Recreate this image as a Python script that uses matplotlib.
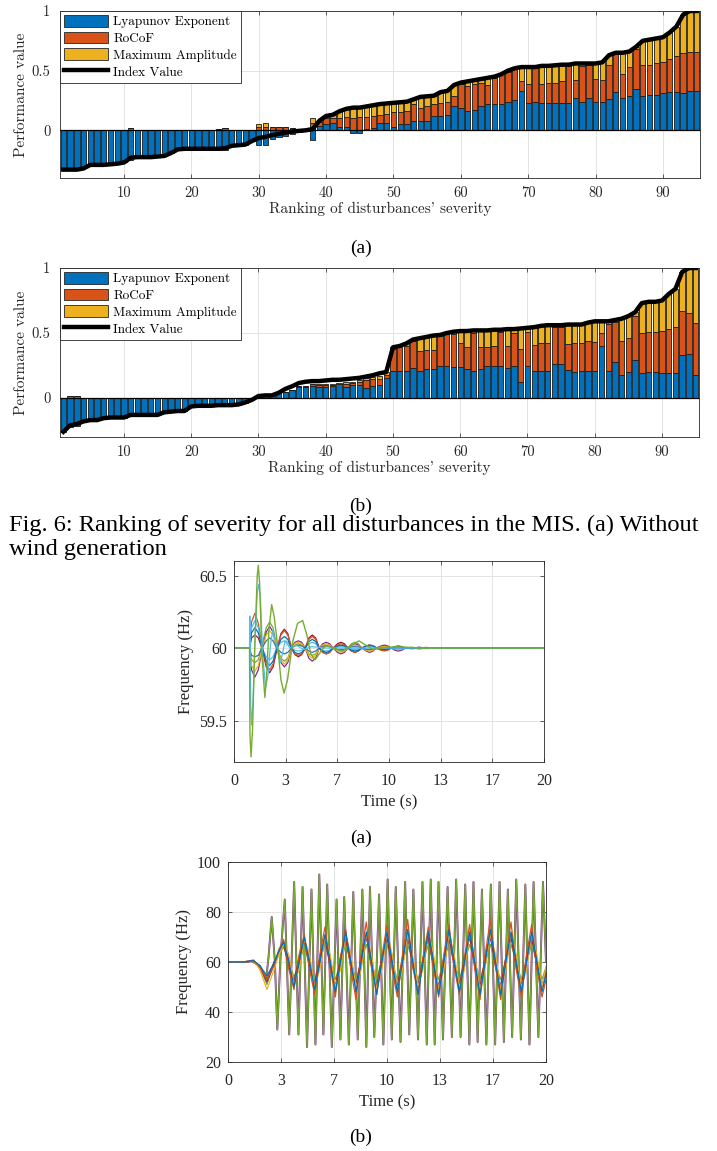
import numpy as np
import matplotlib.pyplot as plt
from matplotlib.patches import Patch, Rectangle
from matplotlib.lines import Line2D

# ---------------- ranking data (95 disturbances) ----------------
rank = list(range(1, 96))

lyap_a = [
    -0.33, -0.33, -0.33, -0.32, -0.29, -0.29, -0.29, -0.285, -0.28, -0.27,
    -0.245, -0.225, -0.225, -0.225, -0.22, -0.215, -0.19, -0.16, -0.155, -0.16,
    -0.16, -0.16, -0.16, -0.165, -0.165, -0.13, -0.125, -0.12, -0.09, -0.12,
    -0.12, -0.07, -0.06, -0.045, -0.03, -0.015, -0.01, -0.085, 0.04, 0.05,
    0.06, 0.03, 0.03, -0.02, -0.02, 0.01, 0.02, 0.06, 0.06, 0.03,
    0.05, 0.05, 0.08, 0.08, 0.08, 0.12, 0.12, 0.13, 0.20, 0.19,
    0.16, 0.17, 0.20, 0.22, 0.22, 0.22, 0.24, 0.25, 0.33, 0.23,
    0.24, 0.23, 0.23, 0.23, 0.23, 0.23, 0.27, 0.24, 0.27, 0.24,
    0.24, 0.26, 0.32, 0.27, 0.29, 0.35, 0.29, 0.30, 0.30, 0.31,
    0.32, 0.32, 0.31, 0.33, 0.33]
rocof_a = [
    0, 0, 0, 0, 0, 0, 0, 0, 0, 0,
    0.015, 0, 0, 0, 0, 0, 0, 0, 0, 0.005,
    0.005, 0.005, 0.005, 0.01, 0.015, 0, 0, 0, 0, 0.03,
    0.03, 0.03, 0.03, 0.025, 0.02, 0.01, 0.01, 0.06, 0.03, 0.05,
    0.04, 0.07, 0.08, 0.10, 0.11, 0.10, 0.10, 0.07, 0.08, 0.12,
    0.10, 0.11, 0.14, 0.11, 0.12, 0.10, 0.11, 0.11, 0.09, 0.20,
    0.21, 0.22, 0.20, 0.16, 0.22, 0.25, 0.25, 0.26, 0.08, 0.16,
    0.28, 0.16, 0.17, 0.17, 0.18, 0.31, 0.15, 0.30, 0.28, 0.19,
    0.18, 0.29, 0.32, 0.20, 0.24, 0.33, 0.26, 0.25, 0.26, 0.26,
    0.28, 0.30, 0.34, 0.33, 0.33]
amp_a = [
    0, 0, 0, 0, 0, 0, 0, 0, 0, 0,
    0, 0, 0, 0, 0, 0, 0, 0, 0, 0,
    0, 0, 0, 0, 0, 0, 0, 0, 0, 0.025,
    0.035, 0, 0, 0, 0, 0, 0, 0.04, 0.01, 0.02,
    0.03, 0.06, 0.07, 0.09, 0.08, 0.09, 0.09, 0.09, 0.085, 0.08,
    0.085, 0.08, 0.04, 0.09, 0.085, 0.07, 0.09, 0.09, 0.09, 0.01,
    0.04, 0.03, 0.03, 0.06, 0.01, 0.0, 0.01, 0.01, 0.12, 0.14,
    0.01, 0.15, 0.14, 0.145, 0.14, 0.01, 0.14, 0.02, 0.01, 0.13,
    0.15, 0.08, 0.01, 0.18, 0.13, 0.02, 0.20, 0.21, 0.21, 0.21,
    0.22, 0.25, 0.32, 0.34, 0.34]
index_a = [
    -0.33, -0.33, -0.33, -0.32, -0.29, -0.29, -0.29, -0.285, -0.28, -0.27,
    -0.23, -0.225, -0.225, -0.225, -0.22, -0.215, -0.19, -0.16, -0.155, -0.155,
    -0.155, -0.155, -0.155, -0.155, -0.15, -0.13, -0.125, -0.12, -0.09, -0.065,
    -0.055, -0.04, -0.03, -0.02, -0.01, -0.005, 0.0, 0.01, 0.08, 0.12,
    0.13, 0.16, 0.18, 0.19, 0.19, 0.20, 0.21, 0.22, 0.225, 0.23,
    0.235, 0.24, 0.26, 0.28, 0.285, 0.29, 0.32, 0.33, 0.38, 0.40,
    0.41, 0.42, 0.43, 0.44, 0.45, 0.47, 0.50, 0.52, 0.53, 0.53,
    0.53, 0.54, 0.54, 0.545, 0.55, 0.55, 0.56, 0.56, 0.56, 0.56,
    0.57, 0.63, 0.65, 0.65, 0.66, 0.70, 0.75, 0.76, 0.77, 0.78,
    0.82, 0.87, 0.97, 1.0, 1.0]

lyap_b = [
    -0.26, -0.22, -0.215, -0.18, -0.17, -0.17, -0.155, -0.15, -0.15, -0.15,
    -0.13, -0.13, -0.13, -0.13, -0.13, -0.11, -0.105, -0.10, -0.10, -0.065,
    -0.06, -0.06, -0.06, -0.055, -0.055, -0.055, -0.05, -0.035, -0.015, 0.015,
    0.02, 0.02, 0.035, 0.05, 0.065, 0.085, 0.085, 0.09, 0.085, 0.085,
    0.09, 0.105, 0.085, 0.10, 0.10, 0.075, 0.09, 0.10, 0.155, 0.205,
    0.205, 0.21, 0.23, 0.21, 0.22, 0.22, 0.25, 0.25, 0.24, 0.24,
    0.22, 0.21, 0.22, 0.25, 0.244, 0.244, 0.23, 0.25, 0.12, 0.25,
    0.21, 0.21, 0.21, 0.26, 0.26, 0.218, 0.20, 0.21, 0.21, 0.205,
    0.40, 0.207, 0.277, 0.18, 0.20, 0.29, 0.19, 0.20, 0.20, 0.195,
    0.19, 0.19, 0.33, 0.336, 0.18]
rocof_b = [
    0, 0.015, 0.015, 0, 0, 0, 0, 0, 0, 0,
    0, 0, 0, 0, 0, 0, 0, 0, 0, 0,
    0, 0, 0, 0, 0, 0, 0, 0, 0, 0,
    0, 0, 0, 0, 0, 0.005, 0.005, 0.015, 0.015, 0.015,
    0.01, 0.005, 0.025, 0.015, 0.025, 0.065, 0.06, 0.05, 0.02, 0.175,
    0.185, 0.19, 0.21, 0.15, 0.15, 0.15, 0.23, 0.24, 0.25, 0.18,
    0.17, 0.29, 0.17, 0.14, 0.155, 0.26, 0.17, 0.25, 0.26, 0.26,
    0.195, 0.21, 0.21, 0.285, 0.285, 0.20, 0.22, 0.21, 0.225, 0.225,
    0.10, 0.36, 0.31, 0.26, 0.26, 0.34, 0.31, 0.31, 0.31, 0.32,
    0.34, 0.36, 0.34, 0.32, 0.40]
amp_b = [
    0, 0, 0, 0, 0, 0, 0, 0, 0, 0,
    0, 0, 0, 0, 0, 0, 0, 0, 0, 0,
    0, 0, 0, 0, 0, 0, 0, 0, 0, 0,
    0, 0, 0, 0, 0, 0, 0, 0.005, 0.005, 0.01,
    0.01, 0.005, 0.01, 0.01, 0.01, 0.015, 0.015, 0.02, 0.025, 0.01,
    0.01, 0.02, 0.01, 0.10, 0.10, 0.11, 0.005, 0.01, 0.02, 0.095,
    0.125, 0.02, 0.13, 0.13, 0.13, 0.025, 0.13, 0.03, 0.15, 0.03,
    0.14, 0.135, 0.14, 0.015, 0.015, 0.145, 0.145, 0.145, 0.145, 0.16,
    0.09, 0.02, 0.01, 0.17, 0.17, 0.03, 0.23, 0.23, 0.23, 0.24,
    0.27, 0.29, 0.30, 0.34, 0.415]
index_b = [
    -0.26, -0.21, -0.20, -0.18, -0.17, -0.17, -0.155, -0.15, -0.15, -0.15,
    -0.13, -0.13, -0.13, -0.13, -0.13, -0.11, -0.105, -0.10, -0.10, -0.065,
    -0.06, -0.06, -0.06, -0.055, -0.055, -0.055, -0.05, -0.035, -0.015, 0.015,
    0.02, 0.02, 0.04, 0.07, 0.09, 0.115, 0.125, 0.13, 0.13, 0.135,
    0.14, 0.14, 0.145, 0.15, 0.155, 0.165, 0.175, 0.19, 0.20, 0.39,
    0.40, 0.42, 0.45, 0.46, 0.47, 0.48, 0.485, 0.50, 0.51, 0.515,
    0.515, 0.52, 0.52, 0.52, 0.525, 0.525, 0.53, 0.53, 0.535, 0.54,
    0.545, 0.555, 0.56, 0.56, 0.56, 0.565, 0.565, 0.565, 0.58, 0.59,
    0.59, 0.59, 0.60, 0.61, 0.63, 0.66, 0.73, 0.74, 0.74, 0.75,
    0.80, 0.84, 0.97, 1.0, 1.0]

# ---------------- frequency traces, case (a): without wind ----------------
ta = [0, 1.0,
      1.13, 1.35, 1.57, 1.8, 2.08, 2.3, 2.52, 2.75, 3.03, 3.25, 3.47, 3.7,
      3.93, 4.15, 4.37, 4.6, 4.83, 5.05, 5.27, 5.5, 5.73, 5.95, 6.17, 6.4,
      6.68, 6.9, 7.12, 7.35, 7.58, 7.8, 8.02, 8.25, 8.53, 8.75, 8.97, 9.2,
      9.48, 9.7, 9.92, 10.15, 10.38, 10.6, 10.82, 11.05,
      11.5, 11.95, 12.4, 12.85, 20.0]
fa_blue = [60, 60,
           60.105, 60.14, 60.105, 60.01, 59.91, 59.88, 59.91, 59.99, 60.06, 60.08, 60.06, 60.0,
           59.97, 59.96, 59.97, 60.0, 60.045, 60.06, 60.045, 60.0, 59.978, 59.97, 59.978, 60.0,
           60.015, 60.02, 60.015, 60.0, 59.985, 59.98, 59.985, 60.0, 60.015, 60.02, 60.015, 60.0,
           59.993, 59.99, 59.993, 60.0, 60.008, 60.01, 60.008, 60.0,
           60.0, 60.005, 60.0, 60.0, 60.0]
fa_orange = [60, 60,
             60.18, 60.24, 60.17, 60.02, 59.89, 59.85, 59.89, 60.0, 60.09, 60.12, 60.09, 60.01,
             59.96, 59.95, 59.96, 60.0, 60.06, 60.08, 60.06, 60.0, 59.97, 59.96, 59.97, 60.0,
             60.02, 60.03, 60.02, 60.0, 59.98, 59.97, 59.98, 60.0, 60.015, 60.02, 60.015, 60.0,
             59.985, 59.98, 59.985, 60.0, 60.008, 60.01, 60.008, 60.0,
             59.995, 60.0, 60.005, 60.0, 60.0]
fa_yellow = [60, 60,
             59.88, 59.84, 59.88, 59.99, 60.09, 60.12, 60.09, 60.0, 59.92, 59.89, 59.92, 60.0,
             60.03, 60.04, 60.03, 60.0, 59.95, 59.93, 59.95, 60.0, 60.02, 60.03, 60.02, 60.0,
             59.98, 59.97, 59.98, 60.0, 60.015, 60.02, 60.015, 60.0, 59.985, 59.98, 59.985, 60.0,
             60.008, 60.01, 60.008, 60.0, 59.993, 59.99, 59.993, 60.0,
             60.005, 60.0, 59.995, 60.0, 60.0]
fa_purple = [60, 60,
             59.85, 59.80, 59.85, 59.98, 60.11, 60.15, 60.11, 60.01, 59.9, 59.87, 59.9, 60.0,
             60.04, 60.05, 60.04, 60.0, 59.93, 59.91, 59.93, 60.0, 60.03, 60.04, 60.03, 60.0,
             59.97, 59.96, 59.97, 60.0, 60.02, 60.03, 60.02, 60.0, 59.98, 59.97, 59.98, 60.0,
             60.015, 60.02, 60.015, 60.0, 59.985, 59.98, 59.985, 60.0,
             60.0, 59.995, 60.0, 60.0, 60.0]
fa_red = [60, 60,
          60.07, 60.09, 60.07, 60.0, 59.87, 59.83, 59.87, 59.98, 60.1, 60.13, 60.1, 60.0,
          59.955, 59.94, 59.955, 60.0, 60.07, 60.09, 60.07, 60.0, 59.97, 59.96, 59.97, 60.0,
          60.03, 60.04, 60.03, 60.0, 59.98, 59.97, 59.98, 60.0, 60.015, 60.02, 60.015, 60.0,
          59.99, 59.985, 59.99, 60.0, 60.01, 60.015, 60.01, 60.0,
          60.0, 60.005, 60.0, 60.0, 60.0]
fa_green = [60, 60,
            59.92, 59.90, 59.92, 60.02, 60.14, 60.18, 60.14, 60.01, 59.93, 59.91, 59.93, 60.0,
            60.02, 60.03, 60.02, 60.0, 59.96, 59.95, 59.96, 60.0, 60.015, 60.02, 60.015, 60.0,
            59.985, 59.98, 59.985, 60.0, 60.03, 60.04, 60.03, 60.0, 59.99, 59.99, 59.99, 60.0,
            60.01, 60.01, 60.01, 60.0, 59.99, 59.99, 59.99, 60.0,
            60.005, 60.0, 60.0, 60.0, 60.0]
fa_cyan = [60, 60,
           60.14, 60.19, 60.14, 60.0, 59.94, 59.92, 59.94, 60.0, 60.04, 60.05, 60.04, 60.0,
           59.985, 59.98, 59.985, 60.0, 60.03, 60.04, 60.03, 60.0, 59.985, 59.98, 59.985, 60.0,
           60.008, 60.01, 60.008, 60.0, 59.992, 59.99, 59.992, 60.0, 60.008, 60.01, 60.008, 60.0,
           60.0, 60.0, 60.0, 60.0, 60.0, 60.0, 60.0, 60.0,
           60.0, 60.0, 60.0, 60.0, 60.0]
fa_blue2 = [60, 60,
            59.95, 59.94, 59.95, 60.0, 60.05, 60.07, 60.05, 60.0, 59.97, 59.96, 59.97, 60.0,
            60.015, 60.02, 60.015, 60.0, 59.98, 59.97, 59.98, 60.0, 60.01, 60.015, 60.01, 60.0,
            59.99, 59.99, 59.99, 60.0, 60.008, 60.01, 60.008, 60.0, 59.992, 59.99, 59.992, 60.0,
            60.0, 60.0, 60.0, 60.0, 60.0, 60.0, 60.0, 60.0,
            60.0, 60.0, 60.0, 60.0, 60.0]

t_spike_cyan = [0, 1.0, 1.02, 1.08, 1.13, 1.22, 1.35, 1.5, 1.6, 1.7, 1.85, 2.04, 2.2, 2.35,
                2.5, 2.75, 3.0, 3.3, 3.6, 4.0, 4.5, 5.0, 6.0, 20.0]
f_spike_cyan = [60, 60, 60.22, 59.6, 59.47, 59.62, 60.05, 60.38, 60.44, 60.36, 59.95, 59.73,
                59.82, 60.02, 60.12, 60.02, 59.9, 60.05, 60.0, 60.02, 59.99, 60.01, 60.0, 60.0]
t_spike_green = [0, 1.0, 1.03, 1.1, 1.2, 1.35, 1.5, 1.57, 1.65, 1.8, 1.99, 2.1, 2.25, 2.43,
                 2.6, 2.83, 3.03, 3.23, 3.45, 3.8, 4.1, 4.43, 4.7, 4.95, 5.23, 5.5, 5.9,
                 6.4, 7.0, 7.6, 8.06, 8.5, 9.0, 9.5, 10.5, 12.0, 20.0]
f_spike_green = [60, 60, 59.40, 59.25, 59.45, 60.05, 60.50, 60.57, 60.45, 59.95, 59.66, 59.80,
                 60.12, 60.30, 60.21, 60.0, 59.78, 59.69, 59.78, 60.05, 60.17, 60.19, 60.09,
                 59.96, 59.92, 59.96, 60.02, 60.0, 59.98, 60.02, 60.05, 60.02, 59.99, 60.0,
                 60.01, 60.0, 60.0]

# ---------------- frequency traces, case (b): with wind ----------------
t_big = [0, 1.0, 1.5, 2.0, 2.4, 2.55, 2.75, 2.95, 3.1, 3.3, 3.57, 3.85, 4.16, 4.43, 4.69,
         4.97, 5.25, 5.5, 5.74, 6.0, 6.24, 6.53, 6.83, 7.07, 7.31, 7.6, 7.88, 8.16, 8.45,
         8.7, 8.93, 9.2, 9.5, 9.77, 10.04, 10.3, 10.55, 10.85, 11.14, 11.4, 11.66, 11.95,
         12.23, 12.5, 12.75, 13.0, 13.24, 13.52, 13.81, 14.08, 14.35, 14.63, 14.92, 15.18,
         15.44, 15.7, 15.97, 16.25, 16.53, 16.8, 17.08, 17.35, 17.6, 17.87, 18.13, 18.42,
         18.7, 18.96, 19.22, 19.52, 19.81, 20.0]
f_big = [60, 60, 60.3, 58.5, 53, 62, 78, 60, 33, 62, 85, 31, 92, 31, 90, 26, 89, 27, 95,
         31, 91, 26, 85, 29, 86, 27, 88, 29, 89, 26, 90, 30, 87, 27, 93, 29, 90, 28, 92,
         31, 89, 29, 92, 27, 93, 27, 92, 29, 90, 30, 93, 30, 91, 27, 92, 28, 89, 27, 91,
         27, 92, 28, 89, 30, 93, 29, 91, 27, 92, 30, 92, 60]

tm = [0, 1.0, 1.6, 2.0, 2.45, 2.9, 3.2,
      3.5, 3.825, 4.15, 4.475, 4.8, 5.125, 5.45, 5.775,
      6.1, 6.425, 6.75, 7.075, 7.4, 7.725, 8.05, 8.375,
      8.7, 9.025, 9.35, 9.675, 10.0, 10.325, 10.65, 10.975,
      11.3, 11.625, 11.95, 12.275, 12.6, 12.925, 13.25, 13.575,
      13.9, 14.225, 14.55, 14.875, 15.2, 15.525, 15.85, 16.175,
      16.5, 16.825, 17.15, 17.475, 17.8, 18.125, 18.45, 18.775,
      19.1, 19.425, 19.75, 20.0]
fb_blue = [60, 60, 60.6, 58.5, 54.5, 59.5, 64.5,
           68, 60, 50, 60, 70, 60, 49, 60,
           71, 60, 48, 60, 72, 60, 48, 60,
           72, 60, 47, 60, 72, 60, 48, 60,
           73, 60, 47, 60, 72, 60, 47, 60,
           73, 60, 48, 60, 72, 60, 47, 60,
           73, 60, 47, 60, 72, 60, 48, 60,
           72, 60, 48, 55]
fb_orange = [60, 60, 60.8, 58, 53, 58.5, 65,
             69, 57, 49, 63, 71, 57, 47, 63,
             74, 58, 46, 62, 73, 57, 45, 63,
             76, 58, 47, 62, 75, 57, 46, 63,
             77, 58, 47, 62, 74, 57, 46, 63,
             75, 58, 47, 62, 75, 57, 45, 63,
             77, 58, 45, 62, 76, 57, 46, 63,
             75, 57, 46, 53]
fb_yellow = [60, 60, 60.6, 57, 49, 57, 63,
             67, 63, 51, 57, 69, 63, 50, 57,
             70, 63, 50, 57, 71, 63, 50, 57,
             71, 63, 49, 57, 72, 63, 49, 57,
             71, 62, 50, 58, 72, 63, 49, 57,
             71, 63, 50, 57, 72, 62, 49, 58,
             71, 63, 49, 57, 72, 63, 50, 57,
             71, 63, 50, 58]
fb_purple = [60, 60, 60.4, 58.2, 52, 59, 64,
             68, 61, 52, 59, 69, 61, 51, 59,
             70, 61, 50, 59, 71, 61, 50, 59,
             70, 61, 50, 59, 71, 61, 49, 59,
             70, 61, 50, 59, 71, 61, 50, 59,
             70, 61, 50, 59, 71, 61, 49, 59,
             70, 61, 50, 59, 71, 61, 50, 59,
             70, 61, 50, 56]
fb_green = [60, 60, 60.5, 58, 51, 60, 63,
            66, 60, 54, 60, 66, 59, 53, 61,
            67, 60, 53, 60, 67, 60, 53, 60,
            67, 59, 53, 61, 67, 60, 53, 60,
            67, 60, 53, 60, 67, 59, 53, 61,
            67, 60, 53, 60, 67, 60, 53, 60,
            67, 59, 53, 61, 67, 60, 53, 60,
            67, 60, 53, 58]
fb_red = [60, 60, 60.4, 58.2, 53, 60, 64,
          67, 58, 52, 62, 69, 58, 51, 62,
          70, 58, 50, 62, 70, 58, 50, 62,
          71, 58, 50, 62, 70, 58, 50, 62,
          71, 58, 50, 62, 70, 58, 50, 62,
          71, 58, 50, 62, 70, 58, 50, 62,
          71, 58, 50, 62, 70, 58, 50, 62,
          71, 58, 50, 57]

time_ticks = [0, 20 / 6, 40 / 6, 10, 80 / 6, 100 / 6, 20]
time_labels = ['0', '3', '7', '10', '13', '17', '20']

# ---------------- drawing ----------------
W, H = 717, 1151
fig = plt.figure(figsize=(W / 100, H / 100), dpi=100)


def box(l, t, r, b):
    return [l / W, 1 - b / H, (r - l) / W, (b - t) / H]


c_blue, c_orange, c_yellow = '#0072BD', '#D95319', '#EDB120'
c_purple, c_green, c_cyan, c_red = '#7E2F8E', '#77AC30', '#4DBEEE', '#A2142F'
edge = '#262626'
cm = 'cmr10'
times = 'Liberation Serif'


def matlab_axes(ax, font, size):
    for s in ax.spines.values():
        s.set_color(edge)
        s.set_linewidth(0.6)
    ax.tick_params(direction='in', length=3, width=0.5, colors=edge, top=True,
                   right=True, labelsize=size)
    ax.grid(True, color='#e3e3e3', lw=0.7)
    ax.set_axisbelow(True)
    for lab in ax.get_xticklabels() + ax.get_yticklabels():
        lab.set_fontfamily(font)
        lab.set_color('#262626')


def ranking(box_px, lyap, rocof, amp, index, ylo):
    ax = fig.add_axes(box(*box_px))
    pos = np.zeros(len(rank))
    neg = np.zeros(len(rank))
    for vals, col in ((lyap, c_blue), (rocof, c_orange), (amp, c_yellow)):
        v = np.array(vals)
        ax.bar(rank, v, width=0.8, bottom=np.where(v >= 0, pos, neg), color=col,
               edgecolor='#1a1a1a', linewidth=0.6, zorder=2)
        pos += np.clip(v, 0, None)
        neg += np.clip(v, None, 0)
    ax.axhline(0, color='k', lw=0.9, zorder=2.5)
    ax.plot(rank, index, color='k', lw=3.2, zorder=3, solid_joinstyle='round')
    ax.set_xlim(0.5, 95.5)
    ax.set_ylim(ylo, 1)
    ax.set_xticks(range(10, 100, 10))
    ax.set_yticks([0, 0.5, 1])
    ax.set_yticklabels(['0', '0.5', '1'])
    matlab_axes(ax, cm, 10.5)
    ax.tick_params(axis='x', pad=6)
    ax.tick_params(axis='y', pad=7)
    ax.set_xlabel("Ranking of disturbances' severity", fontfamily=cm, fontsize=11,
                  color='#262626')
    ax.set_ylabel('Performance value', fontfamily=cm, fontsize=11, color='#262626')
    ax.xaxis.set_label_coords(0.5, -0.14)
    ax.yaxis.set_label_coords(-0.05, 0.5)
    handles = [Patch(facecolor=c_blue, edgecolor=edge, lw=0.6),
               Patch(facecolor=c_orange, edgecolor=edge, lw=0.6),
               Patch(facecolor=c_yellow, edgecolor=edge, lw=0.6),
               Line2D([], [], color='k', lw=3.2)]
    leg = ax.legend(handles, ['Lyapunov Exponent', 'RoCoF', 'Maximum Amplitude', 'Index Value'],
                    loc='upper left', prop={'family': cm, 'size': 9.5}, fancybox=False,
                    framealpha=1, edgecolor='#262626', borderpad=0.3, labelspacing=0.25,
                    handlelength=3.3, handleheight=1.0, handletextpad=0.45,
                    borderaxespad=0.0)
    leg.get_frame().set_linewidth(0.6)
    return ax


ranking((60, 11, 700, 178), lyap_a, rocof_a, amp_a, index_a, -0.4)
ranking((60, 268, 699, 437), lyap_b, rocof_b, amp_b, index_b, -0.3)


def fig_text(x, y, s, size, ha='center', z=3):
    fig.text(x / W, 1 - y / H, s, fontfamily=times, fontsize=size, ha=ha, va='center',
             zorder=z)


fig_text(361, 248, '(a)', 14)
fig_text(361, 506, '(b)', 14)
fig_text(9, 525, 'Fig. 6: Ranking of severity for all disturbances in the MIS. (a) Without',
         17.6, ha='left')
fig_text(9, 550, 'wind generation', 17.6, ha='left', z=1)
fig.add_artist(Rectangle((173 / W, 1 - 835 / H), 390 / W, 283 / H, transform=fig.transFigure,
                         facecolor='white', edgecolor='none', zorder=2))

# frequency case (a)
ax3 = fig.add_axes(box(234, 561, 544, 762))
ax3.set_zorder(4)
for vals, col in ((fa_green, c_green), (fa_red, c_red), (fa_purple, c_purple),
                  (fa_yellow, c_yellow), (fa_orange, c_orange), (fa_cyan, c_cyan),
                  (fa_blue2, '#3a6fb0'), (fa_blue, c_blue)):
    ax3.plot(ta, vals, color=col, lw=0.9)
ax3.plot(t_spike_cyan, f_spike_cyan, color=c_cyan, lw=0.9)
ax3.plot(t_spike_green, f_spike_green, color=c_green, lw=1.0)
ax3.set_xlim(0, 20)
ax3.set_ylim(59.215, 60.6)
ax3.set_xticks(time_ticks)
ax3.set_xticklabels(time_labels)
ax3.set_yticks([59.5, 60, 60.5])
ax3.set_yticklabels(['59.5', '60', '60.5'])
matlab_axes(ax3, times, 11.5)
ax3.tick_params(axis='y', pad=5)
ax3.tick_params(axis='x', pad=8)
ax3.set_xlabel('Time (s)', fontfamily=times, fontsize=12, color='#262626')
ax3.set_ylabel('Frequency (Hz)', fontfamily=times, fontsize=12, color='#262626')
fig_text(361, 838, '(a)', 14)

# frequency case (b)
ax4 = fig.add_axes(box(228, 862, 546, 1062))
ax4.plot(t_big, f_big, color=c_purple, lw=1.4)
ax4.plot(t_big, f_big, color=c_green, lw=1.0)
for vals, col in ((fb_green, c_green), (fb_red, c_red), (fb_purple, c_purple),
                  (fb_yellow, c_yellow), (fb_orange, c_orange), (fb_blue, c_blue)):
    ax4.plot(tm, vals, color=col, lw=0.9)
ax4.set_xlim(0, 20)
ax4.set_ylim(20, 100)
ax4.set_xticks(time_ticks)
ax4.set_xticklabels(time_labels)
ax4.set_yticks([20, 40, 60, 80, 100])
matlab_axes(ax4, times, 11.5)
ax4.tick_params(axis='y', pad=5)
ax4.tick_params(axis='x', pad=8)
ax4.set_xlabel('Time (s)', fontfamily=times, fontsize=12, color='#262626')
ax4.set_ylabel('Frequency (Hz)', fontfamily=times, fontsize=12, color='#262626')
fig_text(361, 1137, '(b)', 14)

fig.savefig('out.png', dpi=100)
